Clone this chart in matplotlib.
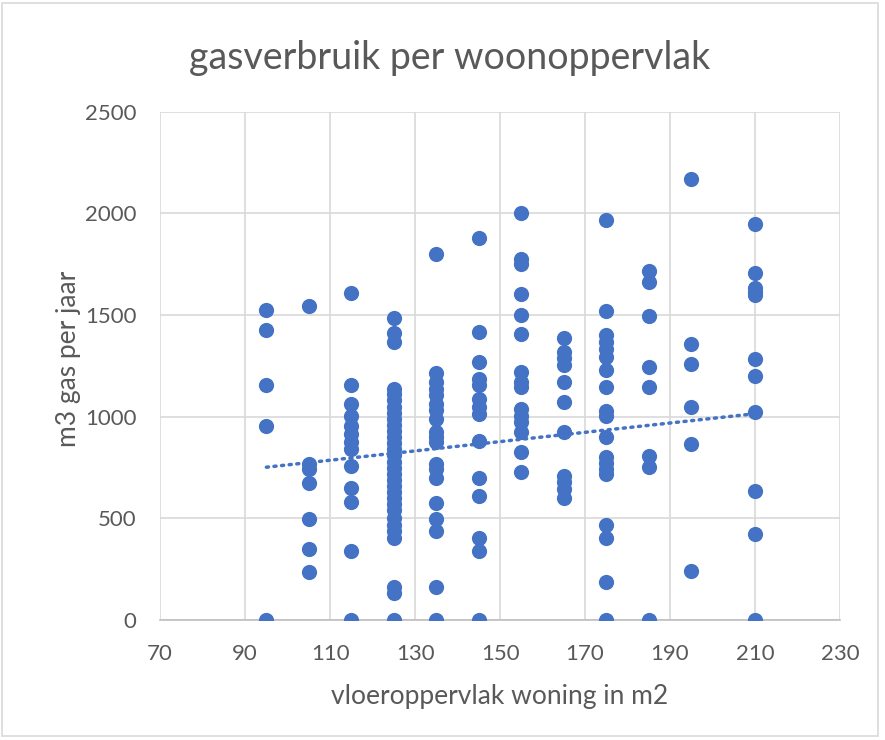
import numpy as np
import matplotlib
matplotlib.use("Agg")
import matplotlib.pyplot as plt
from matplotlib.patches import Rectangle

opp_95 = [1523, 1427, 1158, 957, 0]
opp_105 = [1543, 767, 742, 673, 495, 350, 238]
opp_115 = [1609, 1158, 1064, 1006, 957, 916, 875, 841, 759, 652, 581, 338, 0]
opp_125 = [1488, 1411, 1370, 1138, 1110, 1080, 1050, 1020, 990, 960, 930,
           900, 870, 840, 810, 780, 750, 720, 690, 660, 630, 600, 570, 540,
           500, 470, 440, 406, 165, 132, 0]
opp_135 = [1798, 1213, 1171, 1138, 1105, 1064, 1031, 990, 924, 899, 874,
           767, 742, 701, 577, 495, 437, 165, 0]
opp_145 = [1881, 1419, 1270, 1188, 1155, 1089, 1048, 1015, 883, 701, 610,
           404, 338, 0]
opp_155 = [2000, 1774, 1749, 1604, 1498, 1406, 1218, 1171, 1147, 1040,
           1006, 973, 924, 825, 726]
opp_165 = [1386, 1320, 1287, 1254, 1171, 1072, 927, 710, 677, 643, 602]
opp_175 = [1970, 1518, 1400, 1370, 1331, 1293, 1232, 1148, 1030, 1005, 899,
           803, 771, 743, 721, 467, 403, 189, 0]
opp_185 = [1715, 1663, 1495, 1244, 1148, 808, 751, 0]
opp_195 = [2169, 1359, 1260, 1047, 866, 242]
opp_210 = [1950, 1707, 1633, 1613, 1597, 1285, 1199, 1022, 633, 422, 0]

kolommen = {95: opp_95, 105: opp_105, 115: opp_115, 125: opp_125,
            135: opp_135, 145: opp_145, 155: opp_155, 165: opp_165,
            175: opp_175, 185: opp_185, 195: opp_195, 210: opp_210}

trend_x = [95, 210]
trend_y = [752, 1015]

x_ticks = [70, 90, 110, 130, 150, 170, 190, 210, 230]
y_ticks = [0, 500, 1000, 1500, 2000, 2500]

x = []
y = []
for opp, waarden in kolommen.items():
    x += [opp] * len(waarden)
    y += waarden

blauw = "#4472C4"
grijs = "#595959"
font = "Lato"

fig = plt.figure(figsize=(8.85, 7.4), dpi=100)
ax = fig.add_axes([0.181, 0.162, 0.768, 0.687])

ax.scatter(x, y, s=120, color=blauw, zorder=3, linewidths=0)
ax.plot(trend_x, trend_y, color=blauw, lw=2.5, linestyle=(0, (0.6, 1.6)),
        dash_capstyle="round", zorder=2)

ax.set_xlim(70, 230)
ax.set_ylim(0, 2500)
ax.set_xticks(x_ticks)
ax.set_yticks(y_ticks)
ax.grid(True, color="#D9D9D9", lw=1.2)
ax.set_axisbelow(True)
for s in ["left", "right", "top"]:
    ax.spines[s].set_visible(False)
ax.spines["bottom"].set_color("#BFBFBF")
ax.spines["bottom"].set_linewidth(1.2)
ax.tick_params(length=0, colors=grijs, labelsize=16)
ax.tick_params(axis="x", pad=17)
ax.tick_params(axis="y", pad=17)
for lbl in ax.get_xticklabels() + ax.get_yticklabels():
    lbl.set_fontfamily(font)

ax.set_xlabel("vloeroppervlak woning in m2", fontsize=19, color=grijs, family=font)
ax.set_ylabel("m3 gas per jaar", fontsize=19, color=grijs, family=font)
ax.xaxis.set_label_coords(0.5, -0.126)
ax.yaxis.set_label_coords(-0.117, 0.514)
fig.text(0.508, 0.922, "gasverbruik per woonoppervlak", ha="center",
         va="center", fontsize=27, color=grijs, family=font)

fig.patches.append(Rectangle((0.002, 0.006), 0.99, 0.99, transform=fig.transFigure,
                             fill=False, edgecolor="#D9D9D9", lw=1.2))

fig.savefig("out.png", dpi=100)
